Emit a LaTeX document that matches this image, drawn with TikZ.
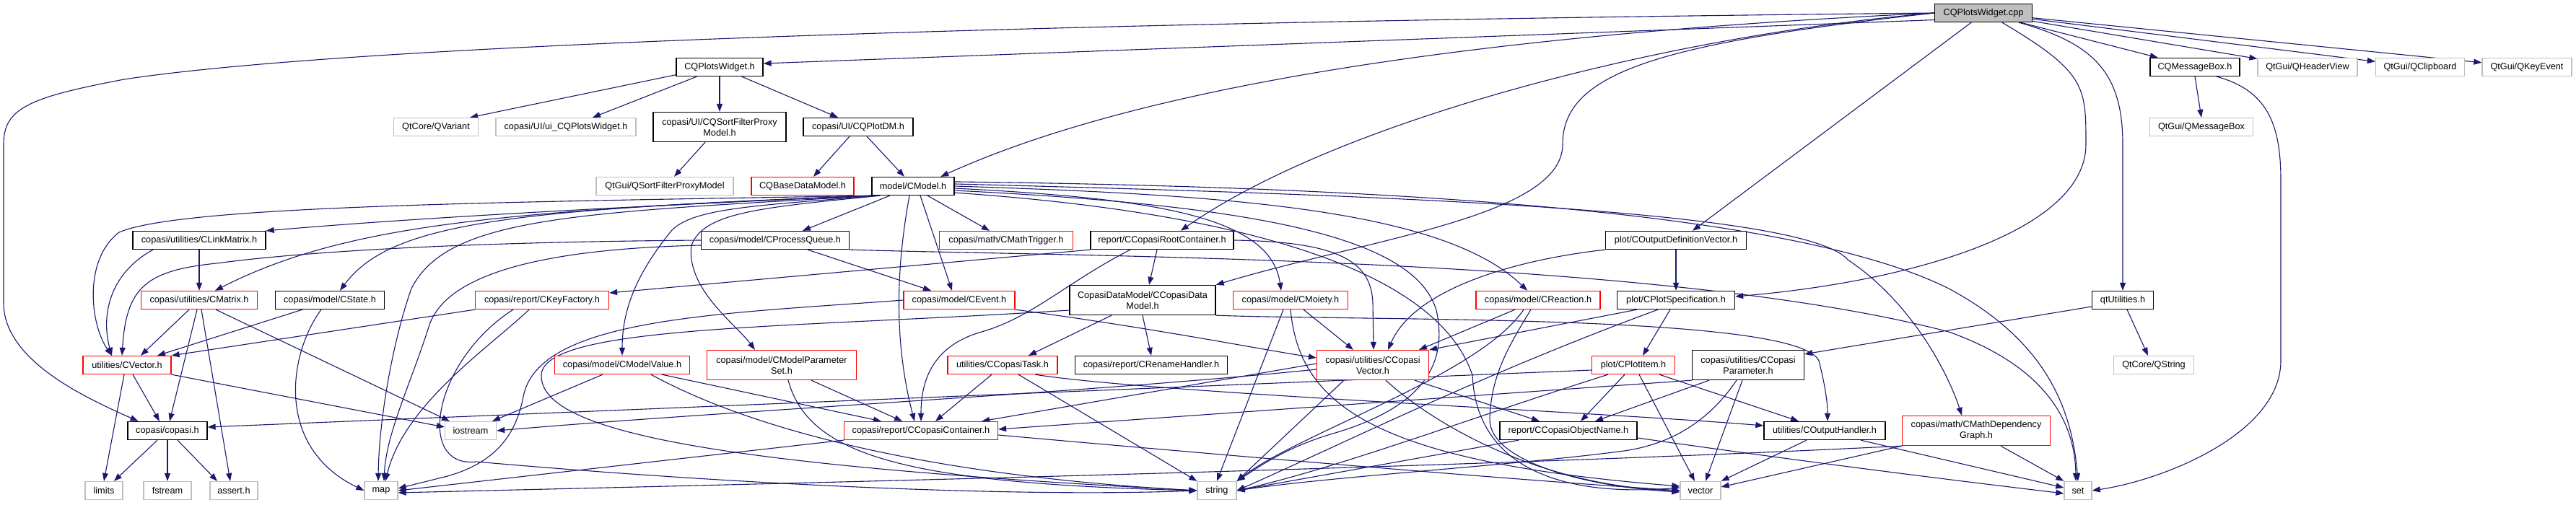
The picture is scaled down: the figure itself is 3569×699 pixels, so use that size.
\documentclass[tikz,border=0pt]{standalone}
\usepackage{fontspec}
\setmainfont{Liberation Sans}
\usetikzlibrary{arrows.meta}
\definecolor{edgeblue}{HTML}{191970}
\definecolor{boxgray}{HTML}{BFBFBF}
\definecolor{boxred}{HTML}{FF0000}
\definecolor{cppfill}{HTML}{BFBFBF}
\pgfdeclarelayer{bg}
\pgfsetlayers{bg,main}
\tikzset{
  nodebox/.style={rectangle, line width=1.3pt, fill=white, inner sep=0pt, minimum height=25pt, align=center, font=\fontsize{12.7}{15}\selectfont},
  bbox/.style={nodebox, draw=black},
  gbox/.style={nodebox, draw=boxgray},
  rbox/.style={nodebox, draw=boxred},
  tall/.style={minimum height=41pt},
  wd/.style={minimum width=#1},
  dep/.style={draw=edgeblue, line width=1.1pt, -{Triangle[length=11pt,width=8pt]}},
}
\begin{document}
\begin{tikzpicture}[x=1pt,y=-1pt]
\useasboundingbox (0,0) rectangle (3569,699);
\begin{pgfonlayer}{bg}
\fill[white] (0,0) rectangle (3569,699);
\end{pgfonlayer}
% row 0
\node[bbox, fill=cppfill, wd=135pt] (cpp) at (2748,18) {CQPlotsWidget.cpp};
% row 1
\node[bbox, wd=120pt] (plotsw) at (997,93) {CQPlotsWidget.h};
\node[bbox, wd=124pt] (msgbox) at (3041,93) {CQMessageBox.h};
\node[gbox, wd=138pt] (qheader) at (3197,93) {QtGui/QHeaderView};
\node[gbox, wd=123pt] (qclip) at (3353,93) {QtGui/QClipboard};
\node[gbox, wd=124pt] (qkey) at (3501,93) {QtGui/QKeyEvent};
% row 2
\node[gbox, wd=117pt] (qvariant) at (604,176) {QtCore/QVariant};
\node[gbox, wd=194pt] (uiplots) at (784,176) {copasi/UI/ui\_CQPlotsWidget.h};
\node[bbox, tall, wd=184pt] (sortfilter) at (997,176) {copasi/UI/CQSortFilterProxy\\Model.h};
\node[bbox, wd=152pt] (plotdm) at (1189,176) {copasi/UI/CQPlotDM.h};
\node[gbox, wd=143pt] (qmsgbox) at (3050,176) {QtGui/QMessageBox};
% row 3
\node[gbox, wd=190pt] (qsfpm) at (921,258) {QtGui/QSortFilterProxyModel};
\node[rbox, wd=142pt] (basedm) at (1112,258) {CQBaseDataModel.h};
\node[bbox, wd=114pt] (cmodel) at (1265,258) {model/CModel.h};
% row 4
\node[bbox, wd=184pt] (linkmatrix) at (276,333) {copasi/utilities/CLinkMatrix.h};
\node[bbox, wd=205pt] (procqueue) at (1074,333) {copasi/model/CProcessQueue.h};
\node[rbox, wd=185pt] (mathtrigger) at (1394,333) {copasi/math/CMathTrigger.h};
\node[bbox, wd=198pt] (rootcont) at (1610,333) {report/CCopasiRootContainer.h};
\node[bbox, wd=195pt] (outdefvec) at (2322,333) {plot/COutputDefinitionVector.h};
% row 5
\node[rbox, wd=161pt] (cmatrix) at (276,416) {copasi/utilities/CMatrix.h};
\node[bbox, wd=151pt] (cstate) at (457,416) {copasi/model/CState.h};
\node[rbox, wd=185pt] (keyfactory) at (751,416) {copasi/report/CKeyFactory.h};
\node[rbox, wd=154pt] (cevent) at (1329,416) {copasi/model/CEvent.h};
\node[bbox, tall, wd=202pt] (datamodel) at (1583,416) {CopasiDataModel/CCopasiData\\Model.h};
\node[rbox, wd=159pt] (cmoiety) at (1788,416) {copasi/model/CMoiety.h};
\node[rbox, wd=172pt] (creaction) at (2131,416) {copasi/model/CReaction.h};
\node[bbox, wd=163pt] (plotspec) at (2322,416) {plot/CPlotSpecification.h};
\node[bbox, wd=85pt] (qtutil) at (2941,416) {qtUtilities.h};
% row 6
\node[rbox, wd=122pt] (cvector) at (176,506) {utilities/CVector.h};
\node[rbox, wd=187pt] (modelvalue) at (862,506) {copasi/model/CModelValue.h};
\node[rbox, tall, wd=207pt] (paramset) at (1083,506) {copasi/model/CModelParameter\\Set.h};
\node[rbox, wd=152pt] (copasitask) at (1389,506) {utilities/CCopasiTask.h};
\node[bbox, wd=211pt] (rename) at (1595,506) {copasi/report/CRenameHandler.h};
\node[rbox, tall, wd=155pt] (ccvector) at (1902,506) {copasi/utilities/CCopasi\\Vector.h};
\node[rbox, wd=115pt] (plotitem) at (2263,506) {plot/CPlotItem.h};
\node[bbox, tall, wd=155pt] (ccparam) at (2422,506) {copasi/utilities/CCopasi\\Parameter.h};
\node[gbox, wd=111pt] (qstring) at (2984,506) {QtCore/QString};
% row 7
\node[bbox, wd=110pt] (copasih) at (232,597) {copasi/copasi.h};
\node[gbox, wd=71pt] (iostream) at (652,597) {iostream};
\node[rbox, wd=213pt] (container) at (1276,597) {copasi/report/CCopasiContainer.h};
\node[bbox, wd=190pt] (objname) at (2173,597) {report/CCopasiObjectName.h};
\node[bbox, wd=168pt] (outhandler) at (2528,597) {utilities/COutputHandler.h};
\node[rbox, tall, wd=205pt] (mathdep) at (2738,597) {copasi/math/CMathDependency\\Graph.h};
% row 8
\node[gbox, wd=52pt] (limits) at (144,680) {limits};
\node[gbox, wd=66pt] (fstream) at (232,680) {fstream};
\node[gbox, wd=66pt] (asserth) at (324,680) {assert.h};
\node[gbox, wd=46pt] (map) at (528,680) {map};
\node[gbox, wd=54pt] (string) at (1686,680) {string};
\node[gbox, wd=56pt] (vector) at (2356,680) {vector};
\node[gbox, wd=38pt] (set) at (2879,680) {set};

\begin{pgfonlayer}{bg}
% CQPlotsWidget.cpp
\draw[dep] (cpp.west) .. controls (1500,30) and (500,60) .. (172,110) .. controls (40,135) and (5,150) .. (5,200) -- (5,420) .. controls (5,500) and (120,552) .. (copasih.162);
\draw[dep] (cpp.188) -- ([yshift=5pt]plotsw.east);
\draw[dep] (cpp.west) .. controls (2100,45) and (1600,110) .. (cmodel.19);
\draw[dep] (cpp.west) .. controls (2300,50) and (1850,170) .. (rootcont.27);
\draw[dep] (cpp.west) .. controls (2300,60) and (2165,100) .. (2165,200) .. controls (2165,300) and (1900,330) .. (datamodel.north east);
\draw[dep] (cpp.218) -- ([xshift=23pt]outdefvec.north);
\draw[dep] (cpp.333) .. controls (2890,100) and (2890,120) .. (2890,200) .. controls (2890,320) and (2650,390) .. ([yshift=5pt]plotspec.east);
\draw[dep] (cpp.345) .. controls (2900,60) and (2941,100) .. (2941,200) -- (qtutil.north);
\draw[dep] (cpp) -- (msgbox);
\draw[dep] (cpp) -- (qheader);
\draw[dep] (cpp) -- (qclip);
\draw[dep] (cpp) -- (qkey);
% CQPlotsWidget.h
\draw[dep] (plotsw.190) -- ([xshift=-12pt]qvariant.north east);
\draw[dep] ([xshift=29pt]plotsw.south west) -- ([xshift=37pt]uiplots.north);
\draw[dep] (plotsw.south) -- (sortfilter.north);
\draw[dep] ([xshift=-30pt]plotsw.south east) -- ([xshift=-28pt]plotdm.north);
\draw[dep] ([xshift=-20pt]sortfilter.south) -- ([xshift=13pt]qsfpm.north);
\draw[dep] ([xshift=-12pt]plotdm.south) -- ([xshift=15pt]basedm.north);
\draw[dep] ([xshift=12pt]plotdm.south) -- ([xshift=-12pt]cmodel.north);
% CQMessageBox.h, qtUtilities.h
\draw[dep] (msgbox.south) -- (qmsgbox.north);
\draw[dep] ([xshift=30pt]msgbox.south) .. controls (3140,125) and (3160,170) .. (3160,250) -- (3160,500) .. controls (3160,600) and (3000,665) .. (set.east);
\draw[dep] ([xshift=6pt]qtutil.south) -- ([xshift=-8pt]qstring.north);
\draw[dep] ([yshift=-9pt]qtutil.west) -- ([yshift=-6pt]ccparam.north east);
% model/CModel.h (left side, leaving from the lower left corner)
\draw[dep] (cmodel.south west) .. controls (900,285) and (600,300) .. (linkmatrix.north east);
\draw[dep] ([xshift=2pt]cmodel.south west) .. controls (700,292) and (480,310) .. ([xshift=22pt]cmatrix.north);
\draw[dep] ([xshift=4pt]cmodel.south west) .. controls (700,280) and (250,285) .. (165,322) .. controls (115,360) and (125,450) .. ([xshift=-21pt]cvector.north);
\draw[dep] ([xshift=6pt]cmodel.south west) .. controls (700,290) and (540,310) .. ([xshift=14pt]cstate.north);
\draw[dep] ([xshift=8pt]cmodel.south west) .. controls (800,295) and (620,300) .. (570,400) .. controls (545,470) and (525,580) .. ([xshift=-4pt]map.north);
\draw[dep] ([xshift=-32pt]cmodel.south) -- ([xshift=38pt]procqueue.north);
\draw[dep] ([xshift=10pt]cmodel.south west) .. controls (1050,285) and (960,288) .. (930,320) .. controls (890,370) and (862,420) .. (modelvalue.north);
\draw[dep] ([xshift=12pt]cmodel.south west) .. controls (1050,288) and (975,295) .. (958,340) .. controls (950,400) and (1020,450) .. ([xshift=-37pt]paramset.north);
\draw[dep] ([xshift=10pt]cmodel.south) -- ([xshift=-10pt]cevent.north);
\draw[dep] ([xshift=20pt]cmodel.south) -- ([xshift=-23pt]mathtrigger.north);
\draw[dep] ([xshift=-5pt]cmodel.south) .. controls (1240,380) and (1240,480) .. ([xshift=-9pt]container.north);
% model/CModel.h (right side)
\draw[dep] (cmodel.357) .. controls (1600,275) and (1760,300) .. ([xshift=-13pt]cmoiety.north);
\draw[dep] (cmodel.0) .. controls (1700,270) and (2000,290) .. ([xshift=-15pt]creaction.north);
\draw[dep] (cmodel.3) .. controls (1900,270) and (2500,290) .. (2560,360) .. controls (2650,420) and (2700,520) .. ([xshift=-20pt]mathdep.north);
\draw[dep] (cmodel.6) .. controls (2000,260) and (2500,300) .. (2700,400) .. controls (2830,470) and (2870,560) .. (set.north);
\draw[dep] (cmodel.351) .. controls (1800,300) and (2000,400) .. (2040,520) .. controls (2045,640) and (2150,690) .. ([yshift=4pt]vector.west);
\draw[dep] (cmodel.354) .. controls (1750,285) and (1960,330) .. (1990,430) .. controls (2010,520) and (1950,570) .. (1850,600) .. controls (1780,620) and (1740,650) .. (string.north east);
% CProcessQueue.h
\draw[dep] ([xshift=-58pt]procqueue.south east) -- ([xshift=-39pt]cevent.north);
\draw[dep] (procqueue.west) .. controls (700,335) and (450,345) .. (300,365) .. controls (200,375) and (175,400) .. ([xshift=-7pt]cvector.north);
\draw[dep] ([yshift=-7pt]procqueue.west) .. controls (750,345) and (620,380) .. (595,450) .. controls (570,530) and (535,600) .. ([xshift=4pt]map.north);
\draw[dep] (procqueue.south east) .. controls (1500,356) and (2300,355) .. (2700,460) .. controls (2840,510) and (2875,590) .. ([xshift=-3pt]set.north);
% CKeyFactory.h
\draw[dep] (keyfactory.south west) -- (cvector.north east);
\draw[dep] ([xshift=-18pt]keyfactory.south) .. controls (680,480) and (560,560) .. ([xshift=6pt]map.north);
\draw[dep] ([xshift=-40pt]keyfactory.south) .. controls (600,500) and (575,650) .. (660,640) .. controls (1000,670) and (1400,690) .. (string.west);
% CCopasiRootContainer.h
\draw[dep] (rootcont.south west) -- ([yshift=10pt]keyfactory.east);
\draw[dep] ([xshift=-7pt]rootcont.south) -- ([xshift=9pt]datamodel.north);
\draw[dep] ([xshift=-44pt]rootcont.south) .. controls (1480,390) and (1430,440) .. (1360,460) .. controls (1290,480) and (1276,530) .. (container.north);
\draw[dep] (rootcont.east) .. controls (1850,335) and (1900,360) .. (1902,420) -- ([xshift=1pt]ccvector.north);
% CEvent.h
\draw[dep] (cevent.south east) .. controls (1600,455) and (1750,485) .. ([yshift=10pt]ccvector.west);
\draw[dep] (cevent.west) .. controls (1000,435) and (745,440) .. (725,550) .. controls (715,600) and (690,640) .. (620,660) -- ([yshift=3pt]map.east);
% CCopasiDataModel.h
\draw[dep] ([xshift=-43pt]datamodel.south) -- ([xshift=36pt]copasitask.north);
\draw[dep] (datamodel.south) -- (rename.north);
\draw[dep] (datamodel.south east) .. controls (1900,445) and (2490,435) .. (2520,500) .. controls (2530,540) and (2532,560) .. ([xshift=4pt]outhandler.north);
\draw[dep] ([yshift=-14pt]datamodel.west) .. controls (1100,455) and (752,450) .. (750,520) .. controls (748,600) and (1000,645) .. (string.west);
% CCopasiTask.h
\draw[dep] ([xshift=-15pt]copasitask.south) -- ([xshift=20pt]container.north);
\draw[dep] ([xshift=22pt]copasitask.south) -- (string.north west);
\draw[dep] ([xshift=45pt]copasitask.south) .. controls (1600,545) and (2200,570) .. ([yshift=7pt]outhandler.west);
% CModelValue.h, CModelParameterSet.h
\draw[dep] ([xshift=-27pt]modelvalue.south) -- ([xshift=30pt]iostream.north);
\draw[dep] ([xshift=55pt]modelvalue.south) -- ([xshift=-55pt]container.north);
\draw[dep] ([xshift=40pt]modelvalue.south) .. controls (1050,600) and (1300,660) .. (string.west);
\draw[dep] ([xshift=41pt]paramset.south) -- ([xshift=-26pt]container.north);
\draw[dep] ([xshift=9pt]paramset.south) .. controls (1120,630) and (1250,670) .. (string.west);
% CCopasiContainer.h
\draw[dep] (container.south west) -- (map.east);
\draw[dep] ([yshift=-6pt]container.east) .. controls (1800,640) and (2100,665) .. (vector.west);
% CCopasiVector.h
\draw[dep] ([yshift=2pt]ccvector.west) -- ([xshift=-23pt]container.north east);
\draw[dep] ([yshift=-6pt]ccvector.west) .. controls (1500,545) and (1000,570) .. (iostream.east);
\draw[dep] ([xshift=58pt]ccvector.south) -- ([xshift=-40pt]objname.north);
\draw[dep] ([xshift=-40pt]ccvector.south) -- (string.north east);
\draw[dep] ([xshift=18pt]ccvector.south) .. controls (2000,600) and (2150,675) .. (vector.west);
% CReaction.h
\draw[dep] ([xshift=-32pt]creaction.south) -- ([xshift=64pt]ccvector.north);
\draw[dep] ([xshift=-20pt]creaction.south) .. controls (2050,520) and (1800,600) .. (string.north east);
\draw[dep] ([xshift=-10pt]creaction.south) .. controls (2090,480) and (2066,520) .. (2064,580) .. controls (2062,640) and (2200,675) .. ([yshift=-2pt]vector.west);
% CMoiety.h
\draw[dep] ([xshift=18pt]cmoiety.south) -- ([xshift=-27pt]ccvector.north);
\draw[dep] ([xshift=-10pt]cmoiety.south) -- (string.north);
\draw[dep] (cmoiety.south) .. controls (1800,560) and (1900,640) .. ([yshift=6pt]vector.west);
% CPlotSpecification.h, COutputDefinitionVector.h
\draw[dep] ([xshift=-54pt]plotspec.south) -- (ccvector.north east);
\draw[dep] ([xshift=-8pt]plotspec.south) -- ([xshift=13pt]plotitem.north);
\draw[dep] ([xshift=-25pt]plotspec.south) .. controls (2050,520) and (1850,620) .. (string.east);
\draw[dep] (outdefvec.south) -- (plotspec.north);
\draw[dep] (outdefvec.south west) .. controls (2100,360) and (1960,400) .. ([xshift=21pt]ccvector.north);
% CPlotItem.h
\draw[dep] ([yshift=-7pt]plotitem.west) -- ([yshift=5pt]copasih.east);
\draw[dep] ([xshift=-12pt]plotitem.south) -- ([xshift=17pt]objname.north);
\draw[dep] ([xshift=36pt]plotitem.south) -- ([xshift=-36pt]outhandler.north);
\draw[dep] ([xshift=8pt]plotitem.south) -- ([xshift=-8pt]vector.north);
\draw[dep] ([xshift=-35pt]plotitem.south) .. controls (2050,575) and (1850,650) .. (string.east);
% CCopasiParameter.h
\draw[dep] (ccparam.south west) -- ([yshift=2pt]container.east);
\draw[dep] ([xshift=-54pt]ccparam.south) -- ([xshift=37pt]objname.north);
\draw[dep] ([xshift=-16pt]ccparam.south) .. controls (2370,580) and (2320,615) .. (2250,625) .. controls (2100,645) and (1850,660) .. (string.east);
\draw[dep] ([xshift=-8pt]ccparam.south) -- ([xshift=7pt]vector.north);
% CCopasiObjectName.h, COutputHandler.h, CMathDependencyGraph.h
\draw[dep] ([xshift=-69pt]objname.south) -- (string.east);
\draw[dep] ([yshift=-10pt]objname.east) .. controls (2500,640) and (2700,665) .. ([yshift=-4pt]set.west);
\draw[dep] ([xshift=-25pt]outhandler.south) -- (vector.north east);
\draw[dep] ([xshift=50pt]outhandler.south) -- ([yshift=4pt]set.west);
\draw[dep] ([xshift=34pt]mathdep.south) -- (set.north west);
\draw[dep] (mathdep.south west) -- ([yshift=5pt]vector.east);
\draw[dep] (mathdep.south west) .. controls (2000,650) and (1000,672) .. ([yshift=-3pt]map.east);
% utilities
\draw[dep] (linkmatrix.south) -- (cmatrix.north);
\draw[dep] ([xshift=-64pt]linkmatrix.south) .. controls (150,380) and (140,440) .. ([xshift=-21pt]cvector.north);
\draw[dep] ([xshift=-14pt]cmatrix.south) -- ([xshift=19pt]cvector.north);
\draw[dep] ([xshift=-3pt]cmatrix.south) -- ([xshift=3pt]copasih.north);
\draw[dep] ([xshift=3pt]cmatrix.south) -- ([xshift=-5pt]asserth.north);
\draw[dep] ([xshift=23pt]cmatrix.south) -- ([xshift=-29pt]iostream.north);
\draw[dep] ([xshift=-38pt]cstate.south) -- ([xshift=42pt]cvector.north);
\draw[dep] ([xshift=-12pt]cstate.south) .. controls (400,490) and (380,620) .. (map.west);
\draw[dep] ([xshift=-4pt]cvector.south) -- (limits.north);
\draw[dep] ([xshift=8pt]cvector.south) -- ([xshift=-11pt]copasih.north);
\draw[dep] (cvector.south east) -- ([yshift=5pt]iostream.west);
\draw[dep] ([xshift=-14pt]copasih.south) -- ([xshift=14pt]limits.north);
\draw[dep] (copasih.south) -- (fstream.north);
\draw[dep] ([xshift=14pt]copasih.south) -- ([xshift=-23pt]asserth.north);
\end{pgfonlayer}
\end{tikzpicture}
\end{document}
